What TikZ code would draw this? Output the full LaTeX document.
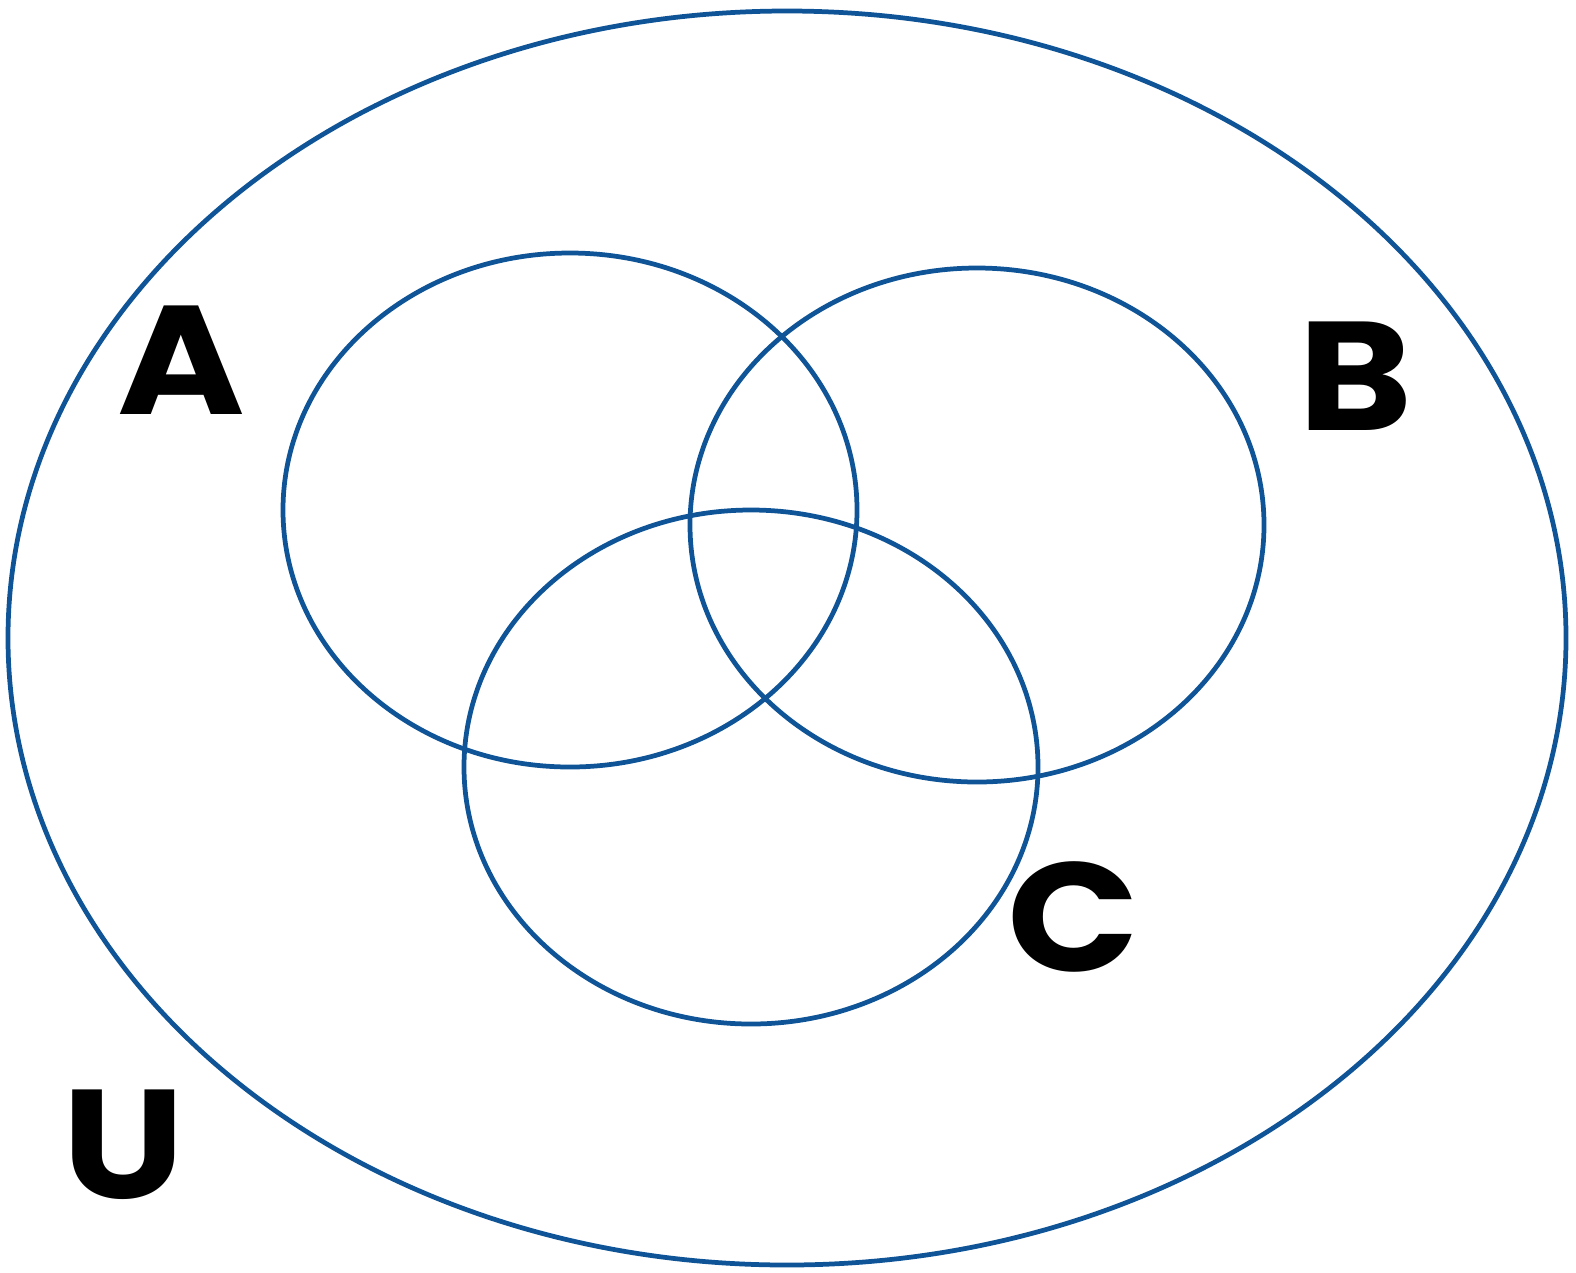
\documentclass[tikz,border=0pt]{standalone}
\usepackage{fontspec}
\newfontfamily\setfont{Poppins}[UprightFont=* Bold]
\definecolor{vennblue}{rgb}{0.06,0.33,0.59}

\begin{document}
\begin{tikzpicture}[x=0.01cm,y=-0.01cm,
  setline/.style={draw=vennblue,line width=1.35pt},
  setlabel/.style={font=\setfont\fontsize{44}{44}\selectfont,inner sep=0pt,xscale=1.12}]
\useasboundingbox (0,0) rectangle (1576,1272);
% universe and the three sets
\draw[setline] (787,638) ellipse [x radius=779,y radius=627];
\draw[setline] (570,510) ellipse [x radius=287,y radius=257];
\draw[setline] (977,525) ellipse [x radius=287,y radius=257];
\draw[setline] (751,767) ellipse [x radius=287,y radius=257];
% labels
\node[setlabel] (labA) at (181,360) {A};
\node[setlabel] (labB) at (1356,376) {B};
\node[setlabel] (labC) at (1074,917) {C};
\node[setlabel] (labU) at (124,1145) {U};
\end{tikzpicture}
\end{document}
